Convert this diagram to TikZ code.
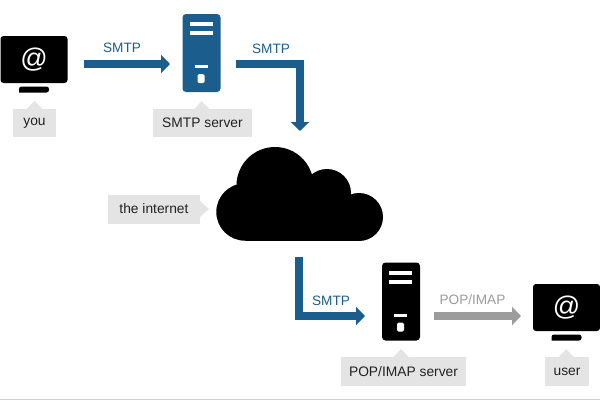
\documentclass[tikz,border=0pt]{standalone}
\usepackage{fontspec}
\setmainfont{Liberation Sans}
\usetikzlibrary{arrows.meta,calc}
\definecolor{flowblue}{HTML}{1B5E8E}
\definecolor{flowgray}{HTML}{9C9C9C}
\definecolor{labelbg}{HTML}{E4E4E4}
\definecolor{labeltext}{HTML}{222222}
\tikzset{
  x=1pt,y=-1pt,
  every node/.style={outer sep=0pt,inner sep=0pt},
  flow/.style={line width=8pt,line join=miter,-{Triangle[width=18pt,length=9pt]}},
  bluepath/.style={flow,draw=flowblue},
  graypath/.style={flow,draw=flowgray},
  flowtext/.style={font=\fontsize{13.6}{15}\selectfont},
  tag/.style={fill=labelbg,text=labeltext,font=\fontsize{13.8}{15}\selectfont},
  screen/.style={fill=black,rounded corners=3pt,minimum width=67pt,minimum height=47pt,text=white,font=\fontsize{27}{30}\selectfont},
  tower/.style={rounded corners=3.5pt,minimum width=38pt,minimum height=78pt},
}
\newcommand{\towerparts}[3]{% x-left, y-top, colour
  \fill[white] (#1+7,#2+8) rectangle (#1+30,#2+12);
  \fill[white] (#1+7,#2+17) rectangle (#1+30,#2+21);
  \fill[white] (#1+12,#2+51) rectangle (#1+25,#2+54);
  \fill[white,rounded corners=1.5pt] (#1+15,#2+60) rectangle (#1+22,#2+69);
}
\newcommand{\standshape}[2]{% centre x, top y
  \fill[black,rounded corners=2.5pt] (#1-15,#2+6) -- (#1-15,#2) -- (#1+15,#2) -- (#1+15,#2+6) [sharp corners] -- cycle;
}
\begin{document}
\begin{tikzpicture}
\useasboundingbox (0,0) rectangle (600,400);
\fill[white] (0,0) rectangle (600,400);
\fill[black!18] (0,398.8) rectangle (600,400);

% screens
\node[screen] (you) at (34,59.5) {@};
\standshape{34}{86.5}
\node[screen] (user) at (566.5,307.5) {@};
\standshape{566.5}{334.5}

% towers
\node[tower,fill=flowblue] (smtp) at (201.5,53) {};
\towerparts{182.5}{14}{flowblue}
\node[tower,fill=black] (pop) at (401,301.5) {};
\towerparts{382}{262.5}{black}

% cloud
\fill[black] (245,212) circle (28.7);
\fill[black] (275,185.5) circle (38.5);
\fill[black] (327,193) circle (24);
\fill[black] (359,217) circle (24);
\fill[black] (245,200) rectangle (359,241);
\node[minimum width=167pt,minimum height=94pt] (cloud) at (299.5,194) {};

% tags
\node[tag,minimum width=43pt,minimum height=28pt] (youtag) at (34.5,123) {you};
\fill[labelbg] ($(youtag.north)+(-8,0)$) -- ($(youtag.north)+(0,-8)$) -- ($(youtag.north)+(8,0)$) -- cycle;
\node[tag,minimum width=99pt,minimum height=28pt] (smtptag) at (202.5,123) {SMTP server};
\fill[labelbg] ($(smtptag.north)+(-8,0)$) -- ($(smtptag.north)+(-1,-8)$) -- ($(smtptag.north)+(7,0)$) -- cycle;
\node[tag,minimum width=92pt,minimum height=29pt] (nettag) at (154,209) {the internet};
\fill[labelbg] ($(nettag.east)+(0,-8)$) -- ($(nettag.east)+(9,0)$) -- ($(nettag.east)+(0,8)$) -- cycle;
\node[tag,minimum width=125pt,minimum height=29pt] (poptag) at (403.5,371.5) {POP/IMAP server};
\fill[labelbg] ($(poptag.north)+(-10,0)$) -- ($(poptag.north)+(-2.5,-8)$) -- ($(poptag.north)+(5,0)$) -- cycle;
\node[tag,minimum width=44pt,minimum height=29pt] (usertag) at (567,371.5) {user};
\fill[labelbg] ($(usertag.north)+(-8,0)$) -- ($(usertag.north)+(-1,-8)$) -- ($(usertag.north)+(7,0)$) -- cycle;

% connectors
\draw[bluepath] ($(you.east)+(16.5,4.5)$) -- ($(smtp.west)+(-12.5,11)$);
\draw[bluepath] ($(smtp.east)+(15.5,11)$) -| ($(cloud.north)+(0.5,-16)$);
\draw[bluepath] ($(cloud.south)+(-0.5,16)$) |- ($(pop.west)+(-17,14.5)$);
\draw[graypath] ($(pop.east)+(14,14.5)$) -- ($(user.west)+(-12,8.5)$);

% connector labels
\node[flowtext,text=flowblue] (l1) at (122,48) {SMTP};
\node[flowtext,text=flowblue] (l2) at (271,48.5) {SMTP};
\node[flowtext,text=flowblue] (l3) at (331,300.5) {SMTP};
\node[flowtext,text=flowgray] (l4) at (472.5,300) {POP/IMAP};
\end{tikzpicture}
\end{document}
